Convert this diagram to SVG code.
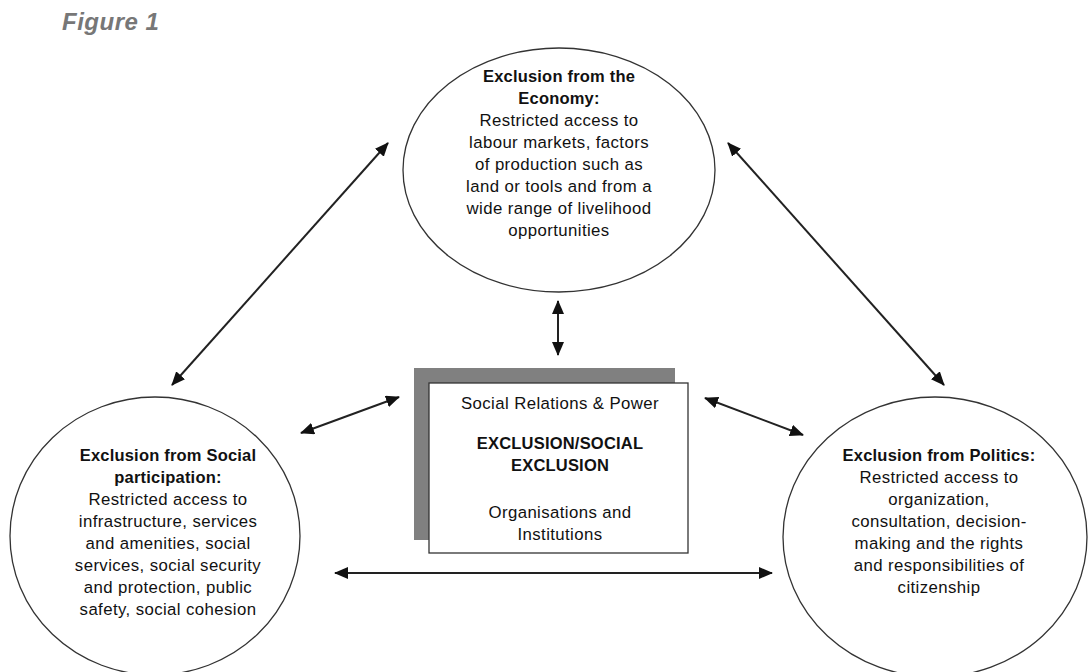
<svg xmlns="http://www.w3.org/2000/svg" width="1089" height="672" viewBox="0 0 1089 672">
<style>
text{font-family:"Liberation Sans",Arial,sans-serif;font-size:16.8px;letter-spacing:0.4px;fill:#111;text-anchor:middle}
.b{font-weight:bold;font-size:16.5px;letter-spacing:0.2px}
.node{fill:#fff;stroke:#333;stroke-width:1.3}
.conn{stroke:#222;stroke-width:2;fill:none;marker-start:url(#ah);marker-end:url(#ah)}
</style>
<defs>
<marker id="ah" viewBox="0 0 14 12" refX="13" refY="6" markerWidth="14" markerHeight="12" markerUnits="userSpaceOnUse" orient="auto-start-reverse">
<path d="M0,0 L14,6 L0,12 Z" fill="#111"/>
</marker>
</defs>
<rect width="1089" height="672" fill="#fff"/>
<text x="62" y="30" style="font-size:24px;font-weight:bold;font-style:italic;fill:#777;text-anchor:start;letter-spacing:0.5px">Figure 1</text>

<g id="connectors">
<line class="conn" x1="388" y1="143" x2="172" y2="385"/>
<line class="conn" x1="728" y1="143" x2="944" y2="385"/>
<line class="conn" x1="558" y1="301" x2="558" y2="355"/>
<line class="conn" x1="301" y1="433" x2="399" y2="397"/>
<line class="conn" x1="705" y1="398" x2="803" y2="435"/>
<line class="conn" x1="335" y1="573" x2="772" y2="573"/>
</g>

<g id="economy">
<ellipse class="node" cx="559" cy="170" rx="156" ry="122"/>
<text x="559" y="82" class="b">Exclusion from the</text>
<text x="559" y="104" class="b">Economy:</text>
<text x="559" y="126">Restricted access to</text>
<text x="559" y="148">labour markets, factors</text>
<text x="559" y="170">of production such as</text>
<text x="559" y="192">land or tools and from a</text>
<text x="559" y="214">wide range of livelihood</text>
<text x="559" y="236">opportunities</text>
</g>

<g id="social">
<ellipse class="node" cx="155" cy="536" rx="145" ry="139"/>
<text x="168" y="461" class="b">Exclusion from Social</text>
<text x="168" y="483" class="b">participation:</text>
<text x="168" y="505">Restricted access to</text>
<text x="168" y="527">infrastructure, services</text>
<text x="168" y="549">and amenities, social</text>
<text x="168" y="571">services, social security</text>
<text x="168" y="593">and protection, public</text>
<text x="168" y="615">safety, social cohesion</text>
</g>

<g id="politics">
<ellipse class="node" cx="935" cy="537" rx="152" ry="140"/>
<text x="939" y="461" class="b">Exclusion from Politics:</text>
<text x="939" y="483">Restricted access to</text>
<text x="939" y="505">organization,</text>
<text x="939" y="527">consultation, decision-</text>
<text x="939" y="549">making and the rights</text>
<text x="939" y="571">and responsibilities of</text>
<text x="939" y="593">citizenship</text>
</g>

<g id="center">
<rect x="414" y="368" width="261" height="172" fill="#808080"/>
<rect x="429" y="383" width="259" height="170" fill="#fff" stroke="#333" stroke-width="1.3"/>
<text x="560" y="409">Social Relations &amp; Power</text>
<text x="560" y="449" class="b">EXCLUSION/SOCIAL</text>
<text x="560" y="471" class="b">EXCLUSION</text>
<text x="560" y="518">Organisations and</text>
<text x="560" y="540">Institutions</text>
</g>
</svg>
